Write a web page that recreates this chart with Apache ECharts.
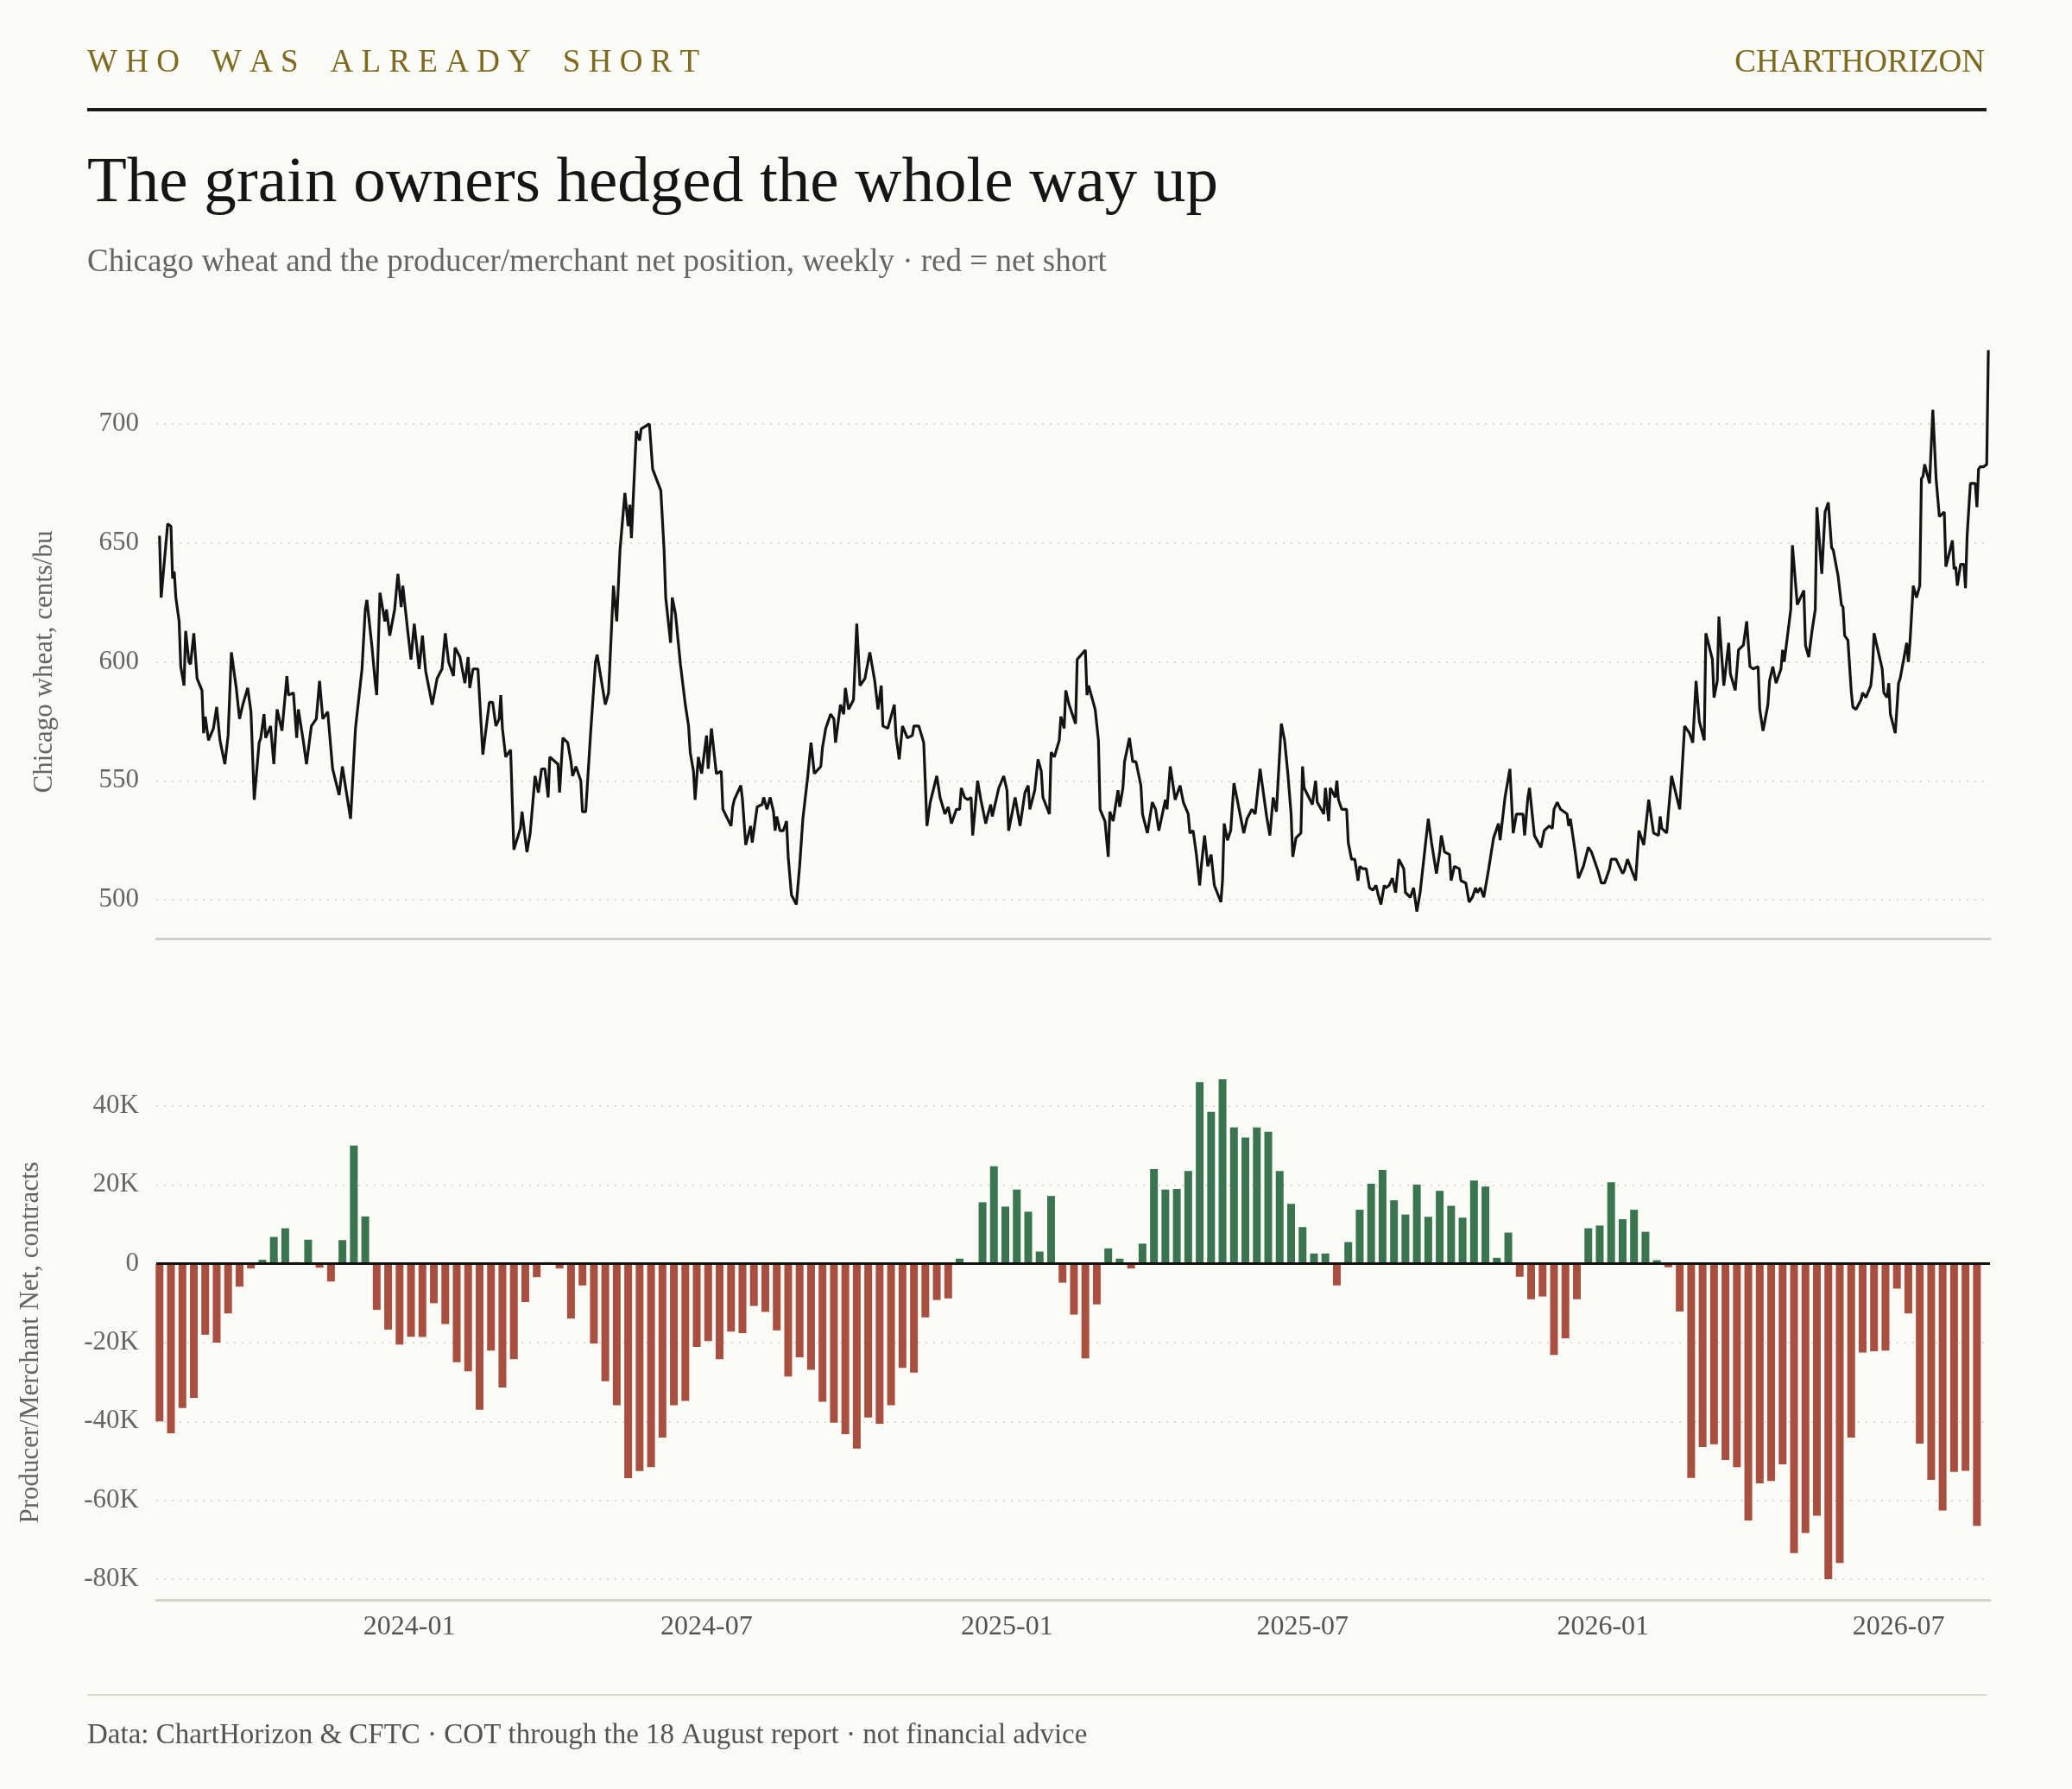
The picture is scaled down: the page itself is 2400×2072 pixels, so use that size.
<!DOCTYPE html>
<html><head><meta charset="utf-8">
<script src="https://cdn.jsdelivr.net/npm/echarts@6/dist/echarts.min.js"></script>
<style>html,body{margin:0;padding:0;background:#fafaf7}#c{width:2400px;height:2072px}</style>
</head><body><div id="c"></div>
<script>
// day offsets from 2023-08-01 and Chicago wheat price (cents/bu)
const wheatPoints = [
[0,653],[1,627],[5,658],[7,657],[8,635],[9,638],[10,627],[12,617],[13,598],[15,590],[16,613],[18,600],[19,599],[21,612],[23,593],[26,588],[27,570],[28,577],[30,567],[33,572],[35,581],[37,567],[40,557],[42,569],[44,604],[47,589],[49,576],[51,582],[54,589],[56,579],[58,542],[61,566],[62,568],[64,578],[65,568],[68,573],[70,557],[72,580],[75,571],[78,594],[79,586],[82,587],[84,568],[85,580],[88,567],[90,557],[93,573],[96,576],[98,592],[100,576],[103,579],[106,555],[110,544],[112,556],[114,547],[117,534],[120,572],[124,597],[126,622],[127,626],[130,607],[132,592],[133,586],[135,629],[138,617],[139,622],[141,611],[144,622],[146,637],[148,623],[149,632],[152,613],[154,601],[156,616],[159,597],[161,611],[163,596],[167,582],[170,593],[173,597],[175,612],[177,600],[180,594],[181,606],[184,602],[187,591],[189,602],[190,589],[192,597],[195,597],[198,561],[202,583],[204,583],[206,573],[208,576],[209,586],[210,572],[212,560],[215,563],[217,521],[221,530],[222,537],[225,520],[227,528],[230,552],[232,545],[234,555],[236,555],[238,543],[239,560],[244,557],[245,545],[247,568],[250,566],[252,558],[253,552],[255,556],[258,550],[259,537],[261,537],[264,570],[267,600],[268,603],[273,582],[275,587],[278,632],[280,617],[282,647],[285,671],[287,657],[288,666],[289,652],[292,697],[294,693],[295,698],[296,698],[300,700],[302,681],[307,672],[309,647],[310,627],[313,608],[314,627],[316,620],[319,599],[322,582],[324,573],[325,562],[327,554],[328,542],[330,560],[332,553],[335,569],[336,555],[338,572],[341,553],[344,554],[345,538],[350,531],[351,539],[352,542],[356,548],[357,542],[359,523],[362,531],[363,524],[366,539],[369,540],[370,543],[372,538],[374,543],
[376,537],[377,529],[378,535],[380,529],[382,529],[384,533],[385,518],[387,502],[390,498],[392,514],[394,534],[397,552],[399,566],[401,553],[405,556],[406,564],[408,572],[411,578],[413,576],[414,566],[417,582],[419,578],[420,589],[422,580],[425,584],[427,616],[429,590],[432,593],[435,604],[438,592],[440,580],[442,590],[443,573],[446,572],[450,582],[451,569],[453,559],[455,573],[458,568],[461,569],[462,573],[465,573],[468,566],[470,531],[472,541],[476,552],[478,543],[481,536],[483,539],[485,532],[488,538],[490,538],[491,547],[493,543],[495,542],[497,543],[498,527],[501,550],[503,542],[506,532],[507,535],[509,540],[510,535],[514,547],[517,552],[519,546],[520,529],[524,543],[527,531],[530,545],[532,548],[533,538],[536,546],[538,559],[540,554],[541,543],[545,536],[546,562],[548,560],[551,567],[552,577],[554,572],[555,588],[557,582],[559,578],[561,574],[562,601],[567,605],[568,586],[569,590],[573,580],[575,567],[576,538],[579,533],[581,518],[582,537],[584,533],[587,546],[588,539],[590,547],[591,558],[594,568],[596,558],[598,558],[601,548],[602,536],[605,528],[608,541],[610,538],[612,529],[616,542],[617,538],[619,556],[622,542],[625,548],[627,541],[630,536],[631,528],[633,529],[635,519],[637,506],[638,514],[640,527],[642,514],[644,519],[646,506],[650,499],[651,508],[652,532],[654,525],[656,529],[658,549],[660,542],[664,528],[666,534],[669,538],[671,536],[674,555],[678,535],[680,527],[682,543],[684,537],[687,574],[689,567],[691,553],[693,536],[694,518],[696,526],[699,528],[700,556],[701,547],[706,540],[708,550],[709,541],[713,536],[714,547],[716,533],[717,547],[720,543],[721,550],[722,542],[724,538],[727,538],[728,524],[730,517],[732,517],[734,508],[735,514],[737,513],[739,513],[741,505],[743,504],[745,506],[746,503],[748,498],
[749,498],[750,506],[751,505],[753,506],[755,509],[757,503],[759,517],[762,513],[763,503],[766,501],[768,505],[770,495],[772,503],[777,534],[779,524],[782,511],[784,520],[785,527],[787,520],[790,519],[791,508],[793,514],[796,513],[797,508],[800,507],[802,499],[804,501],[806,505],[807,503],[809,505],[811,501],[814,513],[817,526],[820,532],[821,525],[824,543],[827,555],[829,528],[831,536],[835,536],[836,527],[838,543],[839,547],[842,527],[846,522],[848,529],[851,531],[853,530],[854,538],[856,541],[858,538],[862,536],[863,531],[864,534],[867,520],[869,509],[872,514],[875,522],[877,520],[881,512],[883,507],[885,507],[888,513],[889,517],[892,517],[896,511],[897,512],[899,517],[904,508],[906,529],[909,523],[912,542],[915,528],[918,527],[919,535],[920,530],[923,528],[926,552],[931,538],[934,573],[937,570],[939,566],[941,592],[943,575],[946,567],[947,612],[951,601],[952,585],[954,592],[955,619],[958,590],[961,608],[962,595],[965,588],[967,605],[970,607],[972,617],[974,598],[976,597],[979,598],[980,580],[982,571],[985,582],[986,592],[988,598],[990,591],[993,597],[994,605],[995,600],[997,611],[999,622],[1000,649],[1003,624],[1007,630],[1008,607],[1010,602],[1012,613],[1014,622],[1015,665],[1016,665],[1018,637],[1020,663],[1022,667],[1024,648],[1025,647],[1028,636],[1030,624],[1031,623],[1032,611],[1034,609],[1036,588],[1037,581],[1039,580],[1042,584],[1043,587],[1045,585],[1048,590],[1049,597],[1050,612],[1052,606],[1055,597],[1056,587],[1058,585],[1059,591],[1060,578],[1063,570],[1065,591],[1066,593],[1070,608],[1071,600],[1072,608],[1074,632],[1076,627],[1078,632],[1079,677],[1080,678],[1081,683],[1084,675],[1086,706],[1088,677],[1090,661],[1093,663],[1094,640],[1098,651],[1099,639],[1100,640],[1101,632],[1103,641],[1105,641],[1106,631],[1107,653],[1109,675],[1112,675],[1113,665],[1114,681],[1115,682],[1117,682],[1119,683],[1120,731]
];
// weekly producer/merchant net position (contracts), reports from 2023-08-01
const netPosition = [
-40000,-43000,-36600,-34000,-18000,-20000,-12600,-5800,-1200,1000,6800,9000,400,6100,-1000,-4500,6000,30000,12000,-11700,
-16700,-20500,-18500,-18600,-10000,-15300,-25000,-27300,-37000,-22000,-31400,-24200,-9700,-3400,400,-1200,-13900,-5500,-20200,-29800,
-35900,-54400,-52600,-51600,-44100,-35900,-34800,-21100,-19600,-24200,-17200,-17600,-10700,-12200,-16900,-28600,-23700,-26900,-35000,-40300,
-43200,-46900,-39000,-40600,-35900,-26400,-27600,-13600,-9200,-8800,1300,0,15600,24700,14500,18800,13200,3100,17200,-4800,
-12900,-24000,-10300,3900,1300,-1200,5100,24000,18800,19000,23500,46100,38500,46800,34600,32000,34600,33500,23500,15200,
9300,2600,2600,-5500,5500,13700,20300,23800,16100,12500,20100,11900,18500,14700,11700,21100,19600,1500,7900,-3300,
-9000,-8300,-23100,-18900,-9000,9000,9700,20700,11300,13700,8100,900,-900,-12100,-54300,-46500,-45800,-49800,-51600,-65100,
-55700,-55100,-50900,-73400,-68300,-63900,-80000,-75900,-44100,-22500,-22200,-22000,-6300,-12600,-45600,-54800,-62600,-52800,-52500,-66500
];
const xTickDates = ['2024-01-01','2024-07-01','2025-01-01','2025-07-01','2026-01-01','2026-07-01'];

const DAY = 86400000;
const base = Date.UTC(2023,7,1);
const lineData = wheatPoints.map(p => [base + p[0]*DAY, p[1]]);
const barData = netPosition.map((v,i) => ({value:[base + i*7*DAY, v], itemStyle:{color: v >= 0 ? '#3b7550' : '#a84f3f'}}));
const tickTs = xTickDates.map(s => Date.parse(s+'T00:00:00Z'));

const FONT = '"Liberation Serif", "DejaVu Serif", serif';
const xMin = Date.UTC(2023,6,30), xMax = Date.UTC(2026,7,26);
const gridLine = {show:true, lineStyle:{color:'#d9d9d3', type:[2,7], width:2}};
const fmtDate = v => {const d=new Date(v);return d.getUTCFullYear()+'-'+String(d.getUTCMonth()+1).padStart(2,'0');};

const chart = echarts.init(document.getElementById('c'));
chart.setOption({
  backgroundColor:'#fafaf7',
  animation:false,
  textStyle:{fontFamily:FONT},
  graphic:[
    {type:'text', left:101, top:55, style:{text:'W H O    W A S    A L R E A D Y    S H O R T', font:'37px '+FONT, fill:'#7d6a1f'}},
    {type:'text', right:101, top:55, style:{text:'CHARTHORIZON', font:'37px '+FONT, fill:'#7d6a1f'}},
    {type:'rect', shape:{x:101, y:125, width:2200, height:4}, style:{fill:'#1a1a1a'}},
    {type:'text', left:101, top:176, style:{text:'The grain owners hedged the whole way up', font:'75px '+FONT, fill:'#151515'}},
    {type:'text', left:101, top:286, style:{text:'Chicago wheat and the producer/merchant net position, weekly · red = net short', font:'37px '+FONT, fill:'#666660'}},
    {type:'rect', shape:{x:101, y:1962, width:2200, height:2}, style:{fill:'#d8d8cc'}},
    {type:'text', left:101, top:1994, style:{text:'Data: ChartHorizon & CFTC · COT through the 18 August report · not financial advice', font:'33px '+FONT, fill:'#555550'}}
  ],
  grid:[
    {left:181, right:95, top:491, height:551},
    {left:181, right:95, top:1281, height:548}
  ],
  xAxis:[
    {type:'value', gridIndex:0, min:xMin, max:xMax, offset:45, scale:true,
     axisLine:{show:true, onZero:false, lineStyle:{color:'#cfcfc8', width:3}}, axisTick:{show:false}, axisLabel:{show:false}, splitLine:{show:false}},
    {type:'value', gridIndex:1, min:xMin, max:xMax, offset:24, scale:true,
     axisLine:{show:true, onZero:false, lineStyle:{color:'#d4d4c8', width:3}}, axisTick:{show:false}, splitLine:{show:false},
     axisLabel:{customValues:tickTs, color:'#555550', fontSize:32, fontFamily:FONT, margin:16, formatter:fmtDate}}
  ],
  yAxis:[
    {type:'value', gridIndex:0, min:500, max:700, interval:50,
     name:'Chicago wheat, cents/bu', nameLocation:'middle', nameGap:114, nameTextStyle:{color:'#666660', fontSize:31, fontFamily:FONT},
     axisLine:{show:false}, axisTick:{show:false}, splitLine:gridLine,
     axisLabel:{color:'#666660', fontSize:31, fontFamily:FONT, margin:20}},
    {type:'value', gridIndex:1, min:-80000, max:40000, interval:20000,
     name:'Producer/Merchant Net, contracts', nameLocation:'middle', nameGap:130, nameTextStyle:{color:'#666660', fontSize:31, fontFamily:FONT},
     axisLine:{show:false}, axisTick:{show:false}, splitLine:gridLine,
     axisLabel:{color:'#666660', fontSize:31, fontFamily:FONT, margin:20, formatter:v=> v===0?'0':(v/1000)+'K'}}
  ],
  series:[
    {type:'line', xAxisIndex:0, yAxisIndex:0, data:lineData, showSymbol:false, clip:false,
     lineStyle:{color:'#141414', width:3.2}},
    {type:'bar', xAxisIndex:1, yAxisIndex:1, data:barData, barWidth:9, clip:false,
     markLine:{silent:true, symbol:'none', label:{show:false}, lineStyle:{color:'#111', width:3, type:'solid'}, data:[{yAxis:0}]}}
  ]
});
</script></body></html>
